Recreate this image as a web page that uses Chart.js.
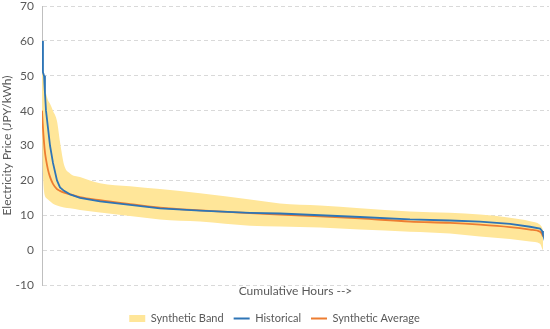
<!DOCTYPE html>
<html><head><meta charset="utf-8">
<script src="https://cdn.jsdelivr.net/npm/chart.js@4"></script>
<style>html,body{margin:0;padding:0;background:#fff}#wrap{width:550px;height:329px}</style>
</head><body><div id="wrap"><canvas id="c"></canvas></div>
<script>
const hours = [0,17,35,52,70,105,140,192,262,315,385,490,664,1014,1539,2063,2763,3637,4161,4861,5560,6434,7133,7658,8183,8533,8708,8743,8760];
const bandHigh = [53,50,48,46,45,43,42,40,37,31,24.5,22,21,19.2,18.3,17.5,16.3,14.5,13.4,12.8,12,11.1,10.7,10.2,9.3,8.3,7.3,6.5,5.5];
const bandLow = [35,22,17,15.5,15,14.5,14,13.3,12.8,12.5,12.2,12,11.5,10.8,9.8,8.8,8.2,7,6.8,6.5,5.9,5.3,4.8,3.9,3.2,2.5,1.8,0.5,0];
const historical = [60,51,50,45,40,35,30,25,20,18,17,16,15,14,13,12,11.3,10.7,10.5,10,9.5,8.8,8.5,8.2,7.5,6.7,6.2,5.5,4.5];
const synthAvg = [40,35,31,28,26,23,21,19,17.5,17,16.5,16,15.2,14.3,13.2,12.2,11.4,10.6,10.2,9.7,9.1,8.2,7.8,7.3,6.6,5.9,5.3,4.6,3.9];
const yTicks = [-10,0,10,20,30,40,50,60,70];
const seriesNames = ['Synthetic Band','Historical','Synthetic Average'];

const pts = arr => hours.map((h,i)=>({x:h,y:arr[i]}));
const FONT = 'Lato, "Open Sans", sans-serif';
const TXT = '#595959';

const legendShift = {
  id: 'legendShift',
  afterLayout(chart) {
    if (chart.legend) { chart.legend.top += 5; chart.legend.bottom += 5; }
  }
};

new Chart(document.getElementById('c'), {
  type: 'line',
  plugins: [legendShift],
  data: {
    datasets: [
      {label: seriesNames[0], data: pts(bandHigh), borderWidth: 0, borderColor:'rgba(0,0,0,0)', backgroundColor:'#FFE699', fill:'+1', pointRadius:0, cubicInterpolationMode:'monotone', order:3},
      {label: 'low', data: pts(bandLow), borderWidth: 0, borderColor:'rgba(0,0,0,0)', backgroundColor:'#FFE699', fill:false, pointRadius:0, cubicInterpolationMode:'monotone', order:3},
      {label: seriesNames[1], data: pts(historical), borderColor:'#2E75B6', borderWidth:1.8, fill:false, pointRadius:0, order:1},
      {label: seriesNames[2], data: pts(synthAvg), borderColor:'#ED7D31', borderWidth:1.8, fill:false, pointRadius:0, cubicInterpolationMode:'monotone', order:2}
    ]
  },
  options: {
    responsive: true, maintainAspectRatio: false, animation: false,
    layout: {padding: {left: 0, right: 1, top: 6, bottom: 0}},
    plugins: {
      tooltip: {enabled:false},
      legend: {
        position: 'bottom',
        labels: {
          font: {family: FONT, size: 11}, color: TXT,
          usePointStyle: true, pointStyleWidth: 16, boxHeight: 7, padding: 10,
          generateLabels: (chart) => [
            {text: seriesNames[0], fillStyle:'#FFE699', strokeStyle:'#FFE699', lineWidth:0, pointStyle:'rect', datasetIndex:0, fontColor: TXT},
            {text: seriesNames[1], fillStyle:'#2E75B6', strokeStyle:'#2E75B6', lineWidth:2, pointStyle:'line', datasetIndex:2, fontColor: TXT},
            {text: seriesNames[2], fillStyle:'#ED7D31', strokeStyle:'#ED7D31', lineWidth:2, pointStyle:'line', datasetIndex:3, fontColor: TXT}
          ]
        }
      }
    },
    scales: {
      x: {
        type: 'linear', min: 0, max: 8865,
        afterFit: s => { s.height = 13; },
        ticks: {display:false},
        grid: {display:false, drawTicks:false},
        border: {display:false},
        title: {display:true, text:'Cumulative Hours -->', font:{family:FONT, size:12}, color:TXT, padding:{top:2, bottom:0}}
      },
      y: {
        min: -10, max: 70,
        afterBuildTicks: s => { s.ticks = yTicks.map(v=>({value:v})); },
        afterFit: s => { s.width = 42; s.paddingTop = 0; s.paddingBottom = 0; },
        ticks: {font:{family:FONT, size:12}, color:TXT, padding: 8},
        grid: {color:'#D9D9D9', drawTicks:false, tickLength:0},
        border: {display:true, color:'#BFBFBF', dash:[4,3]},
        title: {display:true, text:'Electricity Price (JPY/kWh)', font:{family:FONT, size:12}, color:TXT, padding:{top:0,bottom:0}}
      }
    }
  }
});
</script></body></html>
